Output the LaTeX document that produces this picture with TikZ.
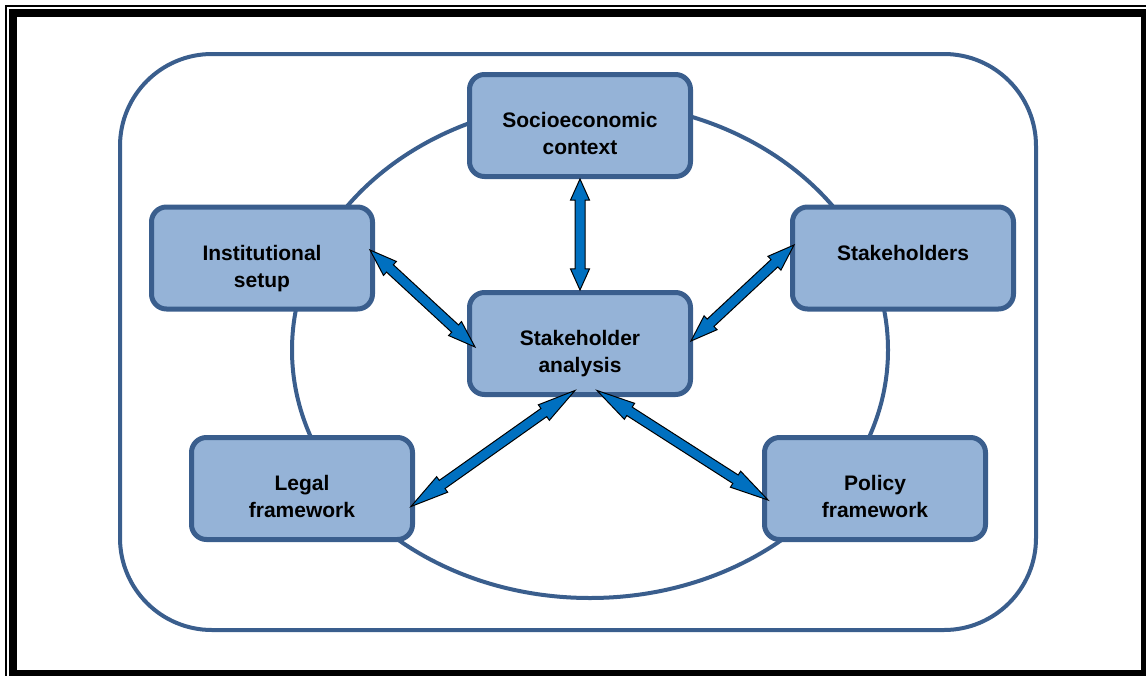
\documentclass[tikz,border=0pt]{standalone}
\usepackage{fontspec}
\setmainfont{Liberation Sans}
\usepackage{tikz}
\usetikzlibrary{positioning, calc}

\definecolor{rim}{HTML}{3A5E8D}
\definecolor{panelfill}{HTML}{95B3D7}
\definecolor{linkblue}{HTML}{0070C0}

\tikzset{
    panel/.style={draw=rim, fill=panelfill, line width=5pt, rounded corners=15pt,
        minimum width=221pt, minimum height=102pt},
    tag/.style={anchor=north, inner sep=0pt, align=center,
        font=\bfseries\fontsize{21}{27}\selectfont},
    rim line/.style={draw=rim, line width=4pt},
    link/.style={fill=linkblue, draw=black, line width=1pt, line join=miter}
}

% double headed block arrow between two points
\newcommand{\linkarrow}[2]{%
    \path (#1) coordinate (tipa) (#2) coordinate (tipb)
        ($(tipa)!0.19!(tipb)$) coordinate (basea)
        ($(tipb)!0.19!(tipa)$) coordinate (baseb);
    \filldraw[link] (tipa) -- ($(basea)!9.5pt!90:(tipb)$) -- ($(basea)!5pt!90:(tipb)$)
        -- ($(baseb)!5pt!-90:(tipa)$) -- ($(baseb)!9.5pt!-90:(tipa)$) -- (tipb)
        -- ($(baseb)!9.5pt!90:(tipa)$) -- ($(baseb)!5pt!90:(tipa)$)
        -- ($(basea)!5pt!-90:(tipb)$) -- ($(basea)!9.5pt!-90:(tipb)$) -- cycle;
}

\begin{document}
\begin{tikzpicture}[x=1pt, y=-1pt]
    \useasboundingbox (0,0) rectangle (1146,675);
    \clip (0,0) rectangle (1146,675);

    % page frame
    \draw[line width=1.5pt] (6,6) rectangle (1170,700);
    \draw[line width=8pt] (13,13) rectangle (1145,674);

    \draw[rim line, rounded corners=92pt] (120,54) rectangle (1036,630);
    \draw[rim line] (590,350) ellipse [x radius=298pt, y radius=248pt];

    \node[panel] (socio) at (580,125.5) {};
    \node[panel] (analysis) at (580,343.5) {};
    \node[panel] (inst) at (262,258) {};
    \node[panel] (stake) at (903,258) {};
    \node[panel] (legal) at (302,488.5) {};
    \node[panel] (policy) at (875,488.5) {};

    \node[tag] (socio text) at ([yshift=13pt]socio.center) {Socioeconomic\\context};
    \node[tag] (analysis text) at ([yshift=13pt]analysis.center) {Stakeholder\\analysis};
    \node[tag] (inst text) at ([yshift=13pt]inst.center) {Institutional\\setup};
    \node[tag] (stake text) at ([yshift=13pt]stake.center) {Stakeholders};
    \node[tag] (legal text) at ([yshift=13pt]legal.center) {Legal\\framework};
    \node[tag] (policy text) at ([yshift=13pt]policy.center) {Policy\\framework};

    \linkarrow{socio.south}{analysis.north}
    \linkarrow{[xshift=-5pt,yshift=8pt]inst.east}{[xshift=8pt,yshift=-3.5pt]analysis.west}
    \linkarrow{[xshift=4pt,yshift=13pt]stake.west}{[xshift=-2pt,yshift=2.5pt]analysis.east}
    \linkarrow{[xshift=-4pt,yshift=-18pt]legal.east}{[xshift=-5pt,yshift=6.5pt]analysis.south}
    \linkarrow{[xshift=6pt,yshift=-11.5pt]policy.west}{[xshift=17pt,yshift=6.5pt]analysis.south}
\end{tikzpicture}
\end{document}
